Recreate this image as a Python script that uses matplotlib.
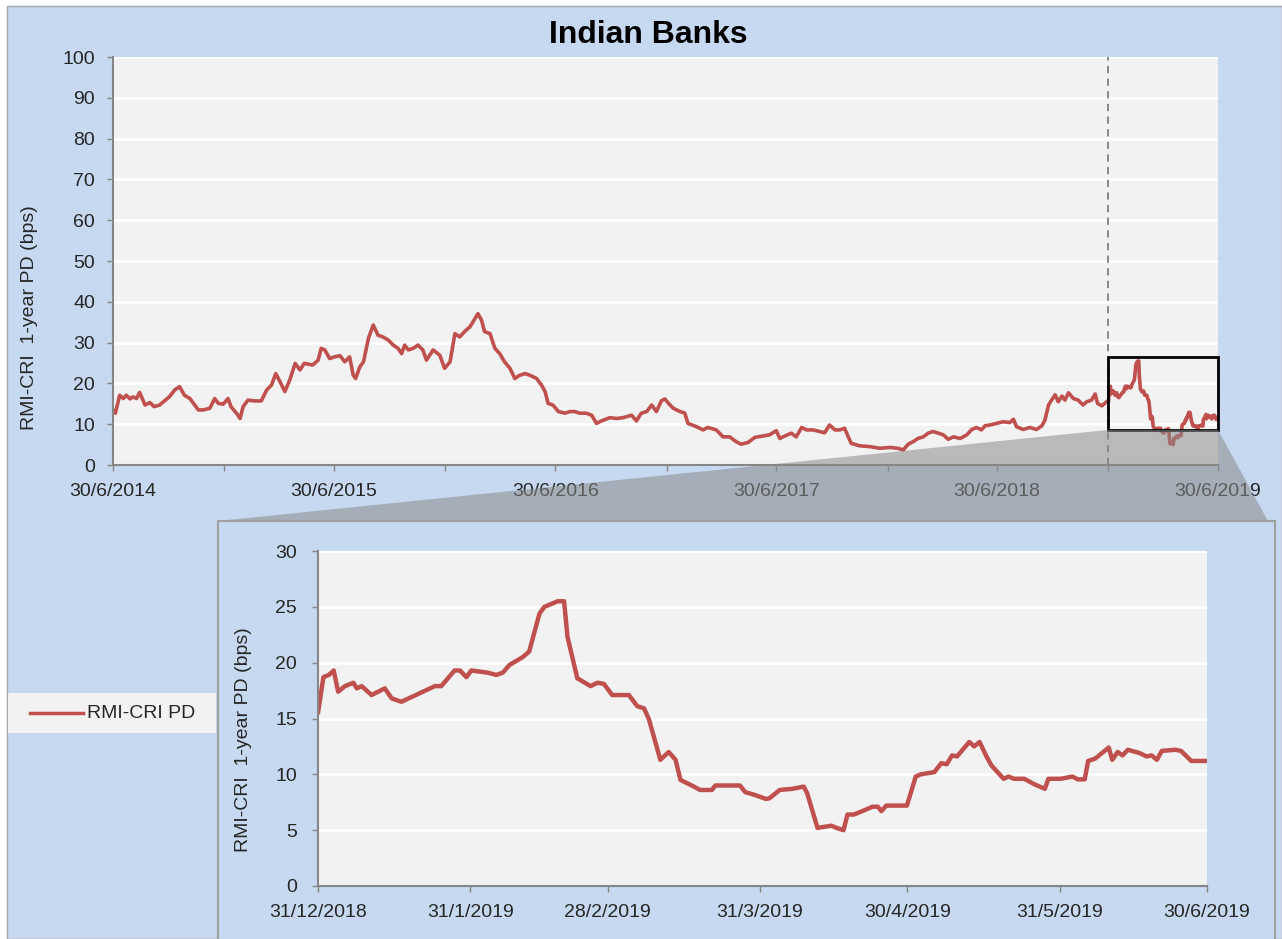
import matplotlib
matplotlib.use('Agg')
import matplotlib.pyplot as plt
import matplotlib.dates as mdates
from matplotlib.patches import Rectangle, Polygon
from matplotlib.lines import Line2D
from matplotlib.ticker import FixedLocator, FuncFormatter
import pandas as pd

plt.rcParams['font.family'] = ['Liberation Sans', 'DejaVu Sans']

# ---------------- data ----------------
title = 'Indian Banks'
series_label = 'RMI-CRI PD'
y_label = 'RMI-CRI  1-year PD (bps)'

# main series: days since 30/6/2014 and 1-year PD in bps
main_start = '2014-06-30'
main_days = [0, 4, 11, 17, 22, 28, 33, 39, 44, 53, 61, 68, 77, 85, 93, 102, 110, 118, 127,
             141, 149, 160, 168, 174, 182, 190, 195, 204, 210, 215, 223, 234, 245, 254, 262,
             269, 276, 284, 292, 301, 309, 316, 330, 339, 344, 350, 358, 366, 375, 383, 391,
             397, 401, 408, 414, 422, 430, 438,
             446, 455, 463, 471, 477, 482, 488, 496, 504, 512, 518, 529, 540, 548, 557, 565,
             573, 581, 590, 595, 603, 609, 614, 623, 631, 639, 647, 656, 664, 672, 681, 689,
             700, 708, 714, 719, 727, 736, 747, 755, 763, 771, 782, 791, 799, 807, 821, 832,
             843, 857, 865, 873, 882, 890, 898, 906, 912, 918, 926,
             937, 945, 950, 964, 975, 983, 997, 1008, 1019, 1030, 1038, 1049, 1061, 1074,
             1085, 1096, 1102, 1110, 1121, 1129, 1138, 1146, 1157, 1168, 1176, 1184, 1193,
             1201, 1209, 1215, 1220, 1234, 1251, 1267, 1284, 1297, 1306, 1314, 1322, 1330,
             1339, 1347, 1355, 1364, 1372, 1380, 1389, 1400, 1411, 1419, 1427, 1435, 1441,
             1449, 1460, 1471, 1482, 1488, 1493, 1504, 1515, 1526, 1535, 1540, 1546, 1551,
             1557, 1562, 1568, 1573, 1579, 1587, 1595, 1603, 1609, 1617, 1623, 1627, 1634, 1642]
main_pd = [13.5, 12.7, 17.1, 16.3, 17.1, 16.2, 16.7, 16.3, 17.8, 14.7, 15.3, 14.3, 14.7, 15.7,
           16.7, 18.4, 19.2, 17.1, 16.3, 13.5, 13.5, 13.9, 16.3, 15.1, 14.9, 16.3, 14.3, 12.7,
           11.4, 14.3, 15.9, 15.7, 15.7, 18.4, 19.6, 22.4, 20.4, 18.0, 20.8, 24.9, 23.3, 24.9,
           24.5, 25.7, 28.6, 28.2, 26.1, 26.5, 26.8, 25.3, 26.5, 22.0, 21.2, 24.1, 25.3, 31.0,
           34.3, 31.8,
           31.4, 30.6, 29.4, 28.6, 27.3, 29.4, 28.2, 28.6, 29.4, 28.2, 25.7, 28.2, 26.9, 23.7,
           25.3, 32.2, 31.4, 32.7, 33.9, 35.1, 37.1, 35.5, 32.7, 32.2, 28.6, 27.3, 25.3, 23.7,
           21.2, 22.0, 22.4, 22.0, 21.2, 19.6, 18.0, 15.1, 14.7, 13.1, 12.7, 13.1, 13.1, 12.7,
           12.7, 12.2, 10.2, 10.8, 11.6, 11.4, 11.6, 12.2, 10.8, 12.7, 13.1, 14.7, 13.1, 15.7,
           16.2, 15.1, 13.9,
           13.1, 12.7, 10.2, 9.4, 8.6, 9.2, 8.6, 6.9, 6.9, 5.7, 5.1, 5.5, 6.8, 7.1, 7.4, 8.4,
           6.5, 7.1, 7.8, 6.9, 9.2, 8.6, 8.6, 8.2, 7.9, 9.8, 8.6, 8.6, 9.0, 6.9, 5.3, 4.7, 4.5,
           4.1, 4.3, 4.1, 3.7, 5.1, 5.7, 6.5, 6.9, 7.8, 8.2, 7.8, 7.4, 6.3, 6.9, 6.5, 7.4, 8.7,
           9.2, 8.6, 9.6, 9.8, 10.2, 10.6, 10.4, 11.2, 9.4, 8.7, 9.2, 8.7, 9.6, 11.0, 14.7,
           15.9, 17.2, 15.5, 16.9, 15.9, 17.7, 16.3, 15.9, 14.7, 15.5, 15.9, 17.4, 15.1, 14.5,
           15.5]

# zoomed period: days since 31/12/2018
zoom_start = '2018-12-31'
zoom_end = '2019-06-30'
zoom_days = [0, 1.1, 2.2, 3.2, 4.1, 5.5, 7.2, 7.9, 8.9, 10.9, 13.6, 15.0, 17.0, 20.4, 23.8,
             25.1, 27.8, 28.9, 30.2, 31.2, 34.6, 36.3, 37.6, 39.0, 41.7, 43.0, 45.1, 46.1,
             48.8, 50.1, 50.8, 52.8, 55.5, 56.9, 58.2, 59.9, 63.3, 65.0, 66.4, 67.4, 69.7,
             71.4, 72.8, 73.8, 76.1, 77.8, 80.2, 80.9, 85.9, 87.0, 88.6, 91.2, 91.9, 94.0,
             96.5, 98.9, 99.6, 101.7, 104.5, 105.6, 107.0, 107.8, 109.1, 110.8, 112.9, 114.0,
             114.7, 115.7, 119.9, 121.7, 122.7, 125.5, 126.9, 128.0, 129.1, 130.1, 132.6,
             133.6, 134.7, 136.1, 137.1, 139.6, 140.6, 141.7, 143.8, 145.9, 148.0, 148.7,
             151.2, 153.6, 154.7, 156.1, 156.8, 158.2, 161.0, 161.7, 162.8, 163.8, 164.9,
             167.3, 168.7, 169.7, 170.8, 171.8, 174.6, 175.7, 177.8, 181.0]
zoom_pd = [15.5, 18.7, 18.9, 19.3, 17.4, 17.9, 18.2, 17.7, 17.9, 17.1, 17.7, 16.8, 16.5, 17.2,
           17.9, 17.9, 19.3, 19.3, 18.7, 19.3, 19.1, 18.9, 19.1, 19.8, 20.5, 21.0, 24.4, 25.0,
           25.5, 25.5, 22.3, 18.6, 17.9, 18.2, 18.1, 17.1, 17.1, 16.1, 15.9, 14.9, 11.3, 12.0,
           11.3, 9.5, 9.0, 8.6, 8.6, 9.0, 9.0, 8.4, 8.2, 7.8, 7.85, 8.6, 8.7, 8.9, 8.3, 5.2,
           5.4, 5.2, 5.0, 6.4, 6.4, 6.7, 7.1, 7.1, 6.7, 7.2, 7.2, 9.8, 10.0, 10.2, 11.0, 10.9,
           11.7, 11.6, 12.9, 12.5, 12.9, 11.6, 10.8, 9.6, 9.8, 9.6, 9.6, 9.1, 8.7, 9.6, 9.6,
           9.8, 9.55, 9.55, 11.2, 11.4, 12.4, 11.3, 12.0, 11.7, 12.2, 11.9, 11.6, 11.7, 11.3,
           12.1, 12.2, 12.1, 11.2, 11.2]

main_xticks = ['2014-06-30', '2015-06-30', '2016-06-30', '2017-06-30', '2018-06-30', '2019-06-30']
main_minor = ['2014-12-31', '2015-12-31', '2016-12-31', '2017-12-31', '2018-12-31']
zoom_xticks = ['2018-12-31', '2019-01-31', '2019-02-28', '2019-03-31', '2019-04-30',
               '2019-05-31', '2019-06-30']
main_yticks = list(range(0, 101, 10))
zoom_yticks = list(range(0, 31, 5))
zoom_box_y = (8.6, 26.5)

# ---------------- styles ----------------
W, H = 1282, 939
BLUE = '#c6d9f0'
PLOT_BG = '#f2f2f2'
RED = '#c0504d'
SPINE = '#868686'
TXT = '#262626'
FS = 14


def fx(x):
    return x / W


def fy(y):
    return 1 - y / H


def date_fmt(v, pos=None):
    d = mdates.num2date(v)
    return f"{d.day}/{d.month}/{d.year}"


dates = pd.to_datetime(main_start) + pd.to_timedelta(main_days, unit='D')
zdates = pd.to_datetime(zoom_start) + pd.to_timedelta(zoom_days, unit='D')
all_dates = list(dates) + list(zdates)
all_pd = main_pd + zoom_pd

fig = plt.figure(figsize=(W / 100, H / 100), dpi=100, facecolor='white')

# background panel
fig.add_artist(Rectangle((fx(7), 0), 1 - fx(7), fy(6), transform=fig.transFigure,
                         facecolor=BLUE, edgecolor='#a6a6a6', lw=1, zorder=-10))


def style_axes(a):
    a.set_facecolor(PLOT_BG)
    for s in ('top', 'right'):
        a.spines[s].set_visible(False)
    for s in ('left', 'bottom'):
        a.spines[s].set_color(SPINE)
        a.spines[s].set_linewidth(1.5)
    a.yaxis.grid(True, color='white', lw=2)
    a.set_axisbelow(True)
    a.tick_params(axis='both', which='both', direction='out', length=4, width=1,
                  color=SPINE, labelsize=FS, labelcolor=TXT)
    a.tick_params(axis='x', pad=9)
    a.tick_params(axis='y', pad=9)


# main axes
ax = fig.add_axes([fx(113), fy(465), (1218 - 113) / W, (465 - 57) / H])
style_axes(ax)
ax.plot(all_dates, all_pd, color=RED, lw=2.6, solid_joinstyle='round')
ax.set_xlim(pd.Timestamp(main_xticks[0]), pd.Timestamp(main_xticks[-1]))
ax.set_ylim(0, 100)
ax.set_yticks(main_yticks)
ax.xaxis.set_major_locator(FixedLocator(mdates.date2num(pd.to_datetime(main_xticks))))
ax.xaxis.set_minor_locator(FixedLocator(mdates.date2num(pd.to_datetime(main_minor))))
ax.xaxis.set_major_formatter(FuncFormatter(date_fmt))
ax.axvline(pd.Timestamp(zoom_start), color='#7f7f7f', lw=1.3, ls=(0, (4, 3)), zorder=3)

zx0 = mdates.date2num(pd.Timestamp(zoom_start))
zx1 = mdates.date2num(pd.Timestamp(zoom_end))
ax.add_patch(Rectangle((zx0, zoom_box_y[0]), zx1 - zx0, zoom_box_y[1] - zoom_box_y[0],
                       fill=False, edgecolor='black', lw=2, zorder=5, clip_on=False))

fig.text(fx(648), fy(35), title, ha='center', va='center', fontsize=23,
         fontweight='bold', color='black')
fig.text(fx(30), fy(318), y_label, rotation=90, ha='center', va='center',
         fontsize=FS, color=TXT)

# connecting wedge
inv = fig.transFigure.inverted()
bl = inv.transform(ax.transData.transform((zx0, zoom_box_y[0])))
br = inv.transform(ax.transData.transform((zx1, zoom_box_y[0])))
fig.add_artist(Polygon([bl, br, (fx(1268), fy(521)), (fx(218), fy(521))], closed=True,
                       transform=fig.transFigure, facecolor='#8a8a8a', alpha=0.55,
                       lw=0, zorder=3))

# inset panel
fig.add_artist(Rectangle((fx(218), fy(950)), (1275 - 218) / W, (950 - 521) / H,
                         transform=fig.transFigure, facecolor=BLUE,
                         edgecolor='#a0a0a0', lw=1.5, zorder=4))

axin = fig.add_axes([fx(318), fy(886), (1207 - 318) / W, (886 - 551) / H])
axin.set_zorder(6)
style_axes(axin)
axin.plot(all_dates, all_pd, color=RED, lw=3.2, solid_joinstyle='round')
axin.set_xlim(pd.Timestamp(zoom_start), pd.Timestamp(zoom_end))
axin.set_ylim(0, 30)
axin.set_yticks(zoom_yticks)
axin.xaxis.set_major_locator(FixedLocator(mdates.date2num(pd.to_datetime(zoom_xticks))))
axin.xaxis.set_major_formatter(FuncFormatter(date_fmt))
axin.tick_params(axis='y', pad=11)
fig.text(fx(243), fy(740), y_label, rotation=90, ha='center', va='center',
         fontsize=FS, color=TXT, zorder=7)

# legend
fig.add_artist(Rectangle((fx(8), fy(733)), (216 - 8) / W, 40 / H, transform=fig.transFigure,
                         facecolor=PLOT_BG, edgecolor='none', zorder=6))
fig.add_artist(Line2D([fx(30), fx(83)], [fy(713), fy(713)], transform=fig.transFigure,
                      color=RED, lw=2.5, zorder=7))
fig.text(fx(87), fy(713), series_label, ha='left', va='center', fontsize=FS,
         color=TXT, zorder=7)

fig.savefig('out.png', dpi=100, facecolor=fig.get_facecolor())
